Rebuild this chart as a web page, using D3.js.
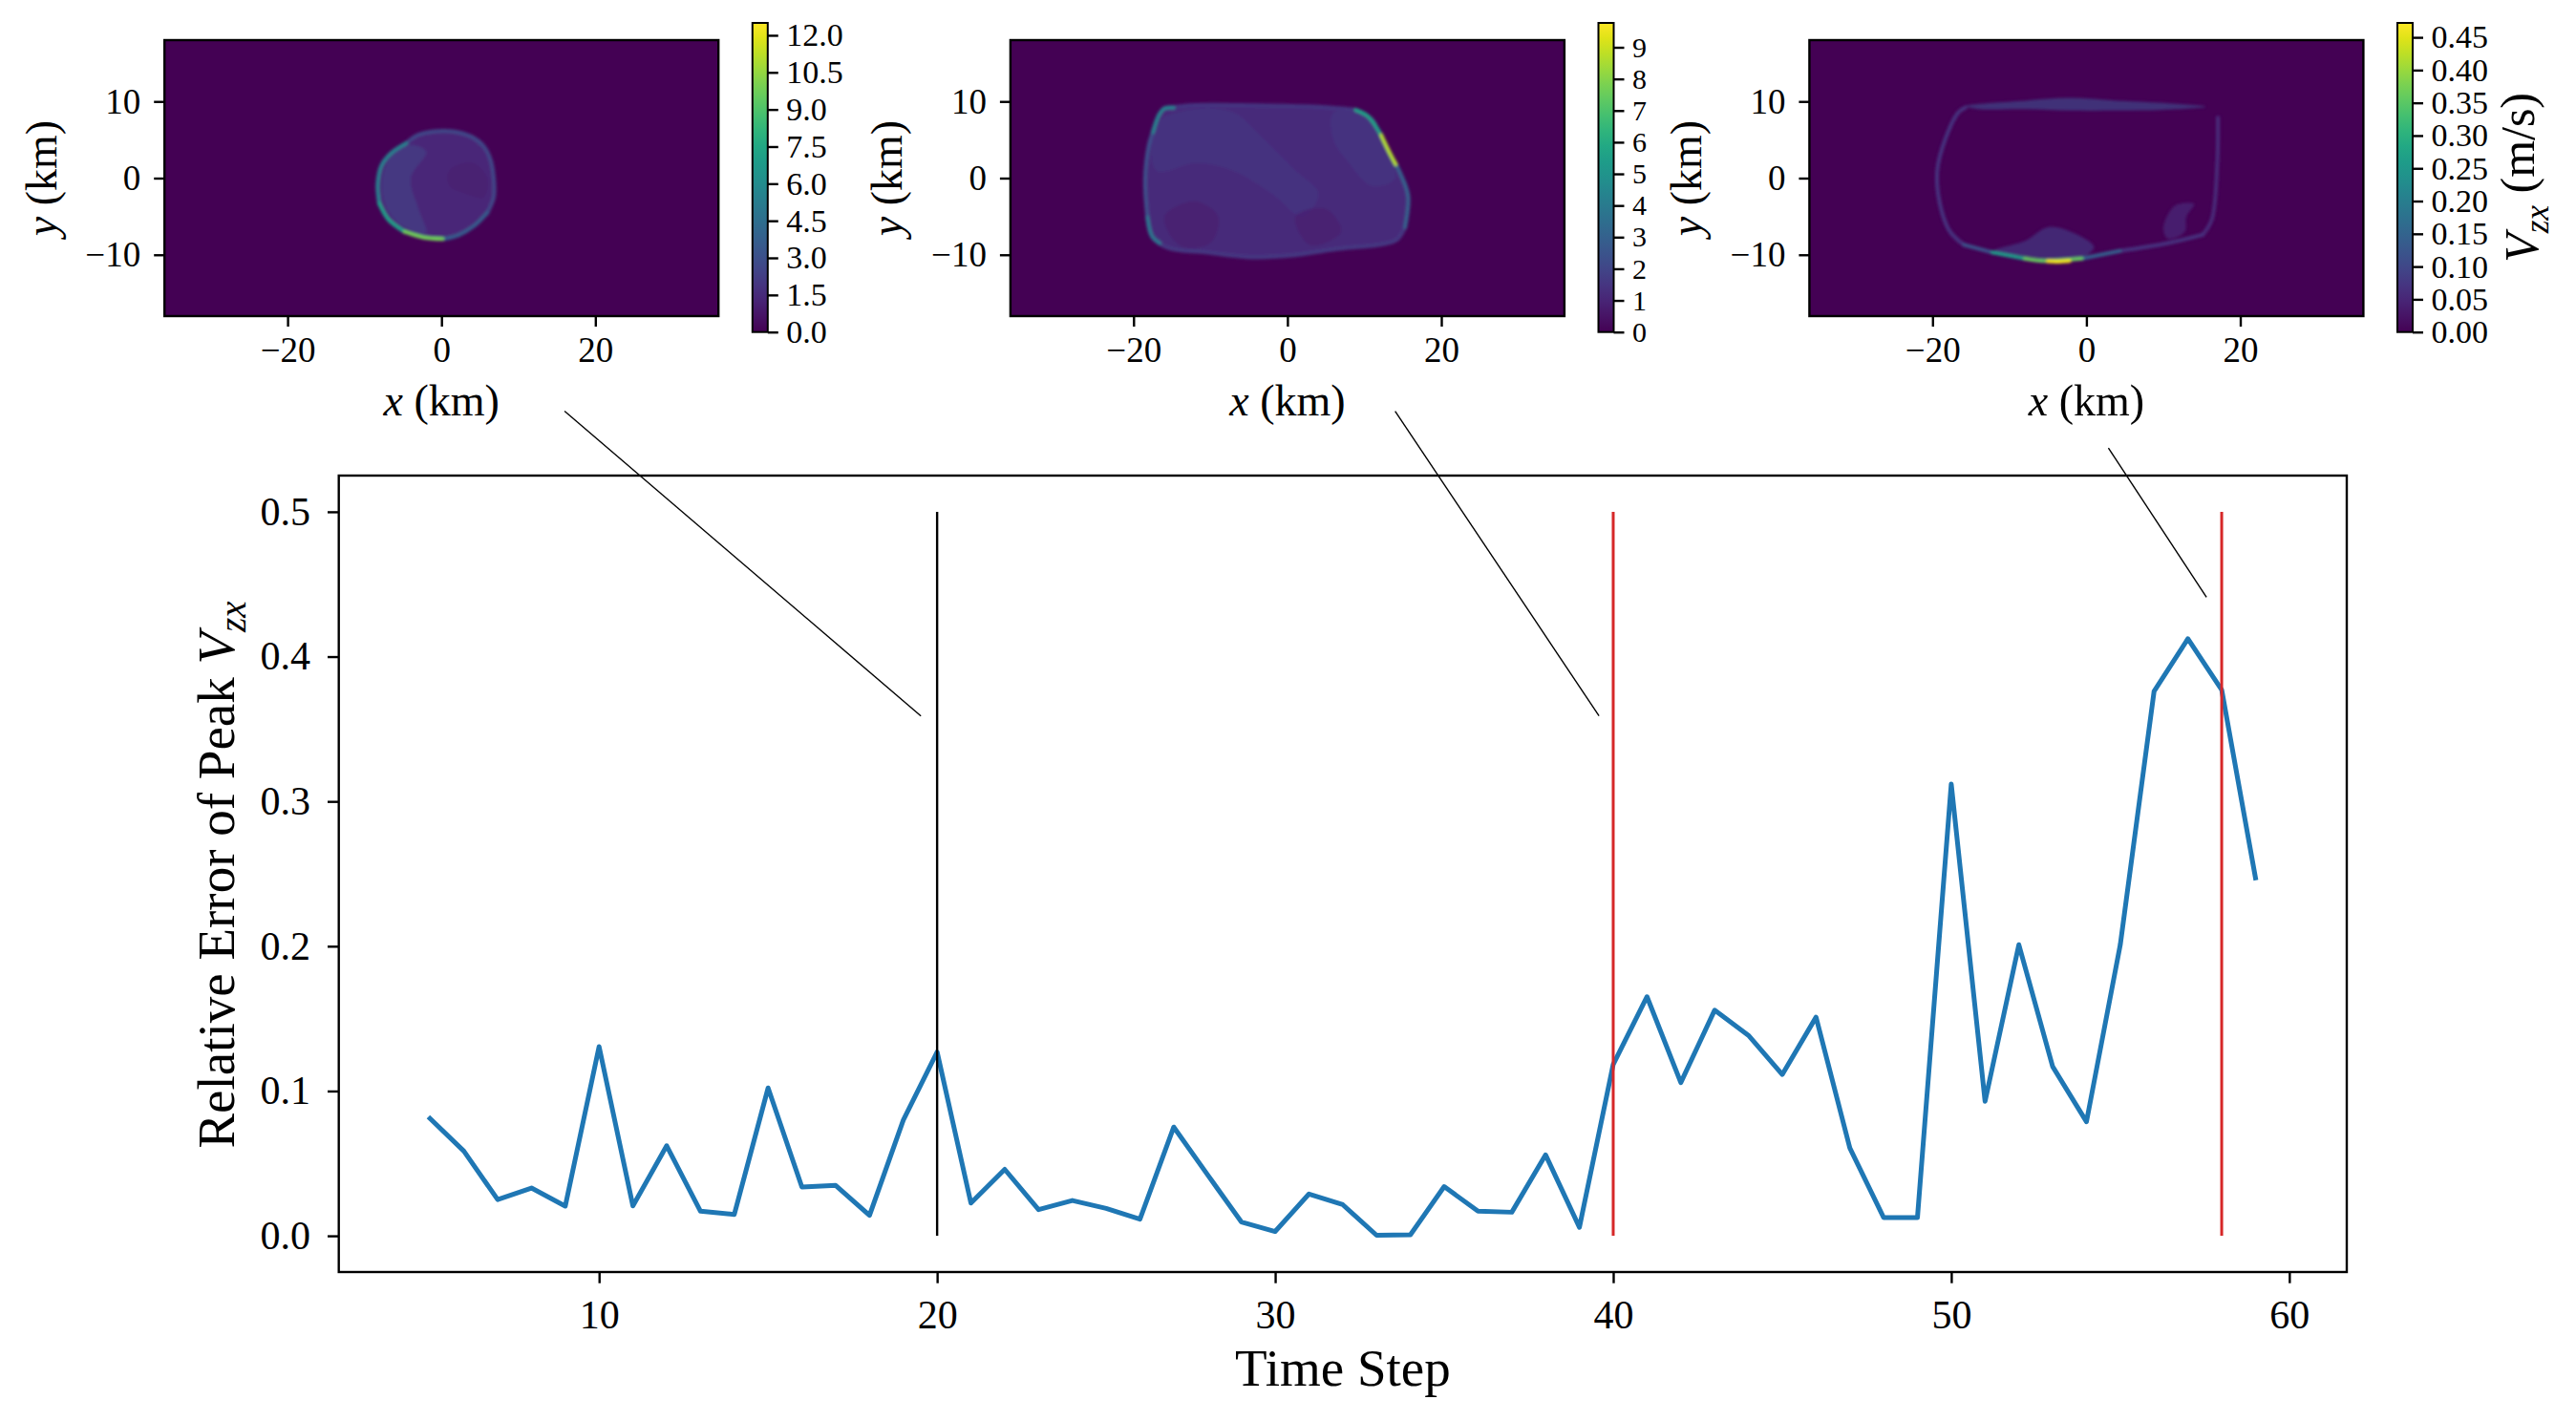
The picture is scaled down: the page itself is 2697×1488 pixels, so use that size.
<!DOCTYPE html>
<html><head><meta charset="utf-8">
<script src="https://cdn.jsdelivr.net/npm/d3@7"></script>
<style>
body{margin:0;background:#fff}
svg{display:block}
text{font-family:"Liberation Serif","Times New Roman",serif;fill:#000}
</style>
</head><body>
<svg id="chart" width="2697" height="1488"></svg>
<script>
// ---------------- DATA ----------------
const timeSteps = [5,6,7,8,9,10,11,12,13,14,15,16,17,18,19,20,21,22,23,24,25,26,27,28,29,30,31,32,33,34,35,36,37,38,39,40,41,42,43,44,45,46,47,48,49,50,51,52,53,54,55,56,57,58,59];
const relError = [0.081,0.0585,0.025,0.033,0.0205,0.1306,0.0207,0.0622,0.017,0.0148,
                  0.1021,0.0337,0.0348,0.0141,0.0799,0.1269,0.0226,0.0459,0.0181,0.0244,
                  0.0189,0.0115,0.0751,0.0422,0.0096,0.003,0.0289,0.0215,0.0004,0.0007,
                  0.034,0.017,0.0163,0.0559,0.0059,0.1184,0.1651,0.1058,0.1558,0.1384,
                  0.1114,0.151,0.0607,0.0126,0.0126,0.312,0.0929,0.201,0.1169,0.0788,
                  0.201,0.376,0.4123,0.3771,0.2472];
const markerSteps = [20, 40, 58];
const markerRange = [0, 0.5];
const mainXTicks = [10,20,30,40,50,60];
const mainYTicks = [0,0.1,0.2,0.3,0.4,0.5];
const mainXDomain = [2.3, 61.7];
const mainYDomain = [-0.025, 0.525];

const hmXDomain = [-36, 36];
const hmYDomain = [-18, 18];
const hmXTicks = [-20, 0, 20];
const hmYTicks = [-10, 0, 10];
const cbMax = [12.5, 9.77, 0.472];
const cbTicks1 = [0,1.5,3,4.5,6,7.5,9,10.5,12];
const cbTicks2 = [0,1,2,3,4,5,6,7,8,9];
const cbTicks3 = [0,0.05,0.1,0.15,0.2,0.25,0.3,0.35,0.4,0.45];

// heatmap 1 (x, y in km; values in colourbar units)
const outline1 = [[-0.9,6.1],[-3.1,5.6],[-4.6,4.55],[-6.5,3.3],[-7.8,1.65],[-8.3,-0.8],[-8.1,-3.3],[-6.9,-5.4],[-4.8,-7.0],[-2.3,-7.75],[0.15,-7.95],[2.2,-7.45],[4.3,-6.2],[5.95,-4.55],[6.8,-2.5],[6.8,0],[6.35,2.5],[5.5,4.15],[3.9,5.4],[1.4,6.1]];
const fill1 = 1.4;
const patches1 = [
  {v:2.2, pts:[[-4.5,4.3],[-6.6,2.8],[-7.6,0.5],[-7.6,-2.5],[-6.6,-4.8],[-4.6,-6.5],[-2,-7.2],[-3,-4],[-4,0],[-2,3.5]]},
  {v:1.0, pts:[[1,1],[4,2],[6,0],[5.5,-2.5],[3,-2],[1,-1]]}
];
const rim1 = [
  {v:2.6, pts:[[-4.6,4.55],[-3.1,5.6],[-0.9,6.1],[1.4,6.1],[3.9,5.4],[5.5,4.15],[6.35,2.5],[6.8,0],[6.8,-2.5],[5.95,-4.55]]},
  {v:3.6, pts:[[5.95,-4.55],[4.3,-6.2],[2.2,-7.45],[0.15,-7.95]]},
  {v:5.4, pts:[[-4.6,4.55],[-6.5,3.3],[-7.8,1.65],[-8.3,-0.8],[-8.1,-3.3]]},
  {v:7.0, pts:[[-8.1,-3.3],[-6.9,-5.4],[-4.8,-7.0]]},
  {v:9.8, pts:[[-4.8,-7.0],[-2.3,-7.75],[0.15,-7.95]]}
];

// heatmap 2
const outline2 = [[-16.0,9.1],[-16.7,8.25],[-18.0,4.35],[-18.5,-0.2],[-18.2,-5.15],[-17.6,-7.6],[-15.5,-9.1],[-10.5,-9.7],[-5.2,-10.3],[0.6,-10.1],[6.0,-9.3],[12.2,-8.65],[14.2,-8.05],[15.3,-6.4],[15.7,-2.3],[14.7,0.6],[13.4,3.1],[12.2,5.6],[10.5,8.05],[8.9,8.9],[3.9,9.3],[-4.3,9.5],[-12.6,9.5]];
const fill2 = 1.15;
const patches2 = [
  {v:1.55, pts:[[-17,7],[-12,9],[-7,8.5],[-3,5],[1,1],[4,-2],[2,-5],[-2,-2],[-7,1],[-12,2],[-17,1]]},
  {v:1.5, pts:[[6,8.5],[11,8],[12.5,4],[14,0],[11,-1],[8,2],[6,5]]},
  {v:0.8, pts:[[-16,-5],[-12,-3],[-9,-5],[-10,-8.5],[-14,-8.8]]},
  {v:0.8, pts:[[1,-5],[5,-4],[7,-7],[3,-8.8]]}
];
const rim2 = [
  {v:1.6, pts:[[-18.2,-5.15],[-17.6,-7.6],[-15.5,-9.1],[-10.5,-9.7],[-5.2,-10.3],[0.6,-10.1],[6.0,-9.3],[12.2,-8.65],[14.2,-8.05],[15.3,-6.4]]},
  {v:1.5, pts:[[-16.0,9.1],[-12.6,9.5],[-4.3,9.5],[3.9,9.3],[8.9,8.9]]},
  {v:4.2, pts:[[-14.8,9.2],[-16.0,9.1],[-16.7,8.25],[-17.5,6.0]]},
  {v:2.4, pts:[[-17.5,6.0],[-18.0,4.35],[-18.5,-0.2],[-18.2,-5.15]]},
  {v:3.8, pts:[[-18.2,-5.15],[-17.6,-7.6],[-16.6,-8.5]]},
  {v:3.0, pts:[[15.3,-6.4],[15.7,-2.3],[14.7,0.6],[14.1,1.8]]},
  {v:5.6, pts:[[8.9,8.9],[10.5,8.05],[12.2,5.6]]},
  {v:8.6, pts:[[12.2,5.6],[13.4,3.1],[14.1,1.8]]}
];

// heatmap 3
const patches3 = [
  {v:0.10, pts:[[-15.7,9.4],[-8,10.1],[-2.3,10.45],[4,10.1],[10,9.8],[15.5,9.3],[10,8.9],[4,8.8],[-2,8.8],[-8,9.0],[-14,9.0]]},
  {v:0.075, pts:[[-12,-9.5],[-8,-8.2],[-5,-6.4],[-2,-7.0],[1,-9],[-0.6,-10.3],[-4,-10.6],[-8,-10.2]]},
  {v:0.055, pts:[[10,-6.5],[11.5,-3.6],[14,-3.4],[13,-5],[12.8,-7],[10.6,-7.9]]}
];
const rim3 = [
  {v:0.07, pts:[[-15.7,9.2],[-16.7,8.5],[-19.4,0.8],[-17.96,-6.6],[-15.9,-8.7]]},
  {v:0.055, pts:[[17.1,7.9],[17.0,1.7],[16.3,-5.4],[15.1,-7.4]]},
  {v:0.07, pts:[[15.1,-7.4],[10.5,-8.5],[4.35,-9.5]]},
  {v:0.14, pts:[[4.35,-9.5],[-0.6,-10.5]]},
  {v:0.12, pts:[[-15.9,-8.7],[-12.2,-9.7]]},
  {v:0.26, pts:[[-12.2,-9.7],[-8.0,-10.5]]},
  {v:0.36, pts:[[-8.0,-10.5],[-5.5,-10.8],[-0.6,-10.5]]},
  {v:0.46, pts:[[-5.0,-10.85],[-3.9,-10.9],[-2.2,-10.8]]}
];

const connectorFrom = [[16.0,-30.4],[14.0,-30.4],[2.86,-35.2]];
const connectorTo = [[19.52,0.359],[39.58,0.359],[57.55,0.441]];

// ---------------- DRAW ----------------
const svg = d3.select("#chart");
const defs = svg.append("defs");
defs.append("filter").attr("id","soft").attr("x","-10%").attr("y","-10%").attr("width","120%").attr("height","120%")
  .append("feGaussianBlur").attr("stdDeviation",1.7);

const AX_W = 2.4;
const line = d3.line();

function styleAxis(g, fs){
  g.select(".domain").remove();
  g.selectAll(".tick line").attr("stroke","#000").attr("stroke-width",AX_W);
  g.selectAll(".tick text").style("font-size",fs+"px").attr("fill","#000");
}
const fmtMinus = s => s.replace("-", "\u2212");

// ---- main plot ----
const mx = d3.scaleLinear().domain(mainXDomain).range([354.7, 2457]);
const my = d3.scaleLinear().domain(mainYDomain).range([1332, 498]);

svg.append("path").datum(timeSteps.map((t,i)=>[mx(t), my(relError[i])]))
  .attr("d", line).attr("fill","none").attr("stroke","#1f77b4").attr("stroke-width",5)
  .attr("stroke-linejoin","round").attr("stroke-linecap","square");

markerSteps.forEach((s,i)=>{
  svg.append("line").attr("x1",mx(s)).attr("x2",mx(s)).attr("y1",my(markerRange[0])).attr("y2",my(markerRange[1]))
    .attr("stroke", i===0 ? "#000" : "#d62728").attr("stroke-width", i===0 ? 2.4 : 3);
});

svg.append("g").attr("transform","translate(0,1332)")
  .call(d3.axisBottom(mx).tickValues(mainXTicks).tickSize(11.7).tickPadding(17).tickFormat(d3.format("d")))
  .call(g=>styleAxis(g,42));
svg.append("g").attr("transform","translate(354.7,0)")
  .call(d3.axisLeft(my).tickValues(mainYTicks).tickSize(11.7).tickPadding(18).tickFormat(d3.format(".1f")))
  .call(g=>styleAxis(g,42));
svg.append("rect").attr("x",354.7).attr("y",498).attr("width",2457-354.7).attr("height",1332-498)
  .attr("fill","none").attr("stroke","#000").attr("stroke-width",AX_W);

svg.append("text").attr("x",(354.7+2457)/2).attr("y",1451).attr("text-anchor","middle")
  .style("font-size","55px").text("Time Step");
const yl = svg.append("text").attr("transform","translate(245,916) rotate(-90)").attr("text-anchor","middle").style("font-size","55px");
yl.append("tspan").text("Relative Error of Peak ");
yl.append("tspan").style("font-style","italic").text("V");
yl.append("tspan").style("font-style","italic").style("font-size","39px").attr("dy","0.3em").text("zx");

// ---- heatmaps ----
const hmLeft = [172.2, 1057.9, 1894.4];
const hmW = 580, hmTop = 42, hmBot = 331;
const cbTop = 24, cbBot = 347.7, cbW = 16, cbGap = 35.6;
const outlines = [outline1, outline2, null];
const fills = [fill1, fill2, 0];
const patches = [patches1, patches2, patches3];
const rims = [rim1, rim2, rim3];
const cbTicks = [cbTicks1, cbTicks2, cbTicks3];
const cbFmt = [d3.format(".1f"), d3.format("d"), d3.format(".2f")];

// colourbar gradient
const grad = defs.append("linearGradient").attr("id","vir").attr("x1",0).attr("y1",1).attr("x2",0).attr("y2",0);
d3.range(0,1.0001,0.05).forEach(t=>grad.append("stop").attr("offset",t).attr("stop-color",d3.interpolateViridis(t)));

const hmScales = [];
[0,1,2].forEach(k=>{
  const x0 = hmLeft[k];
  const hx = d3.scaleLinear().domain(hmXDomain).range([x0, x0+hmW]);
  const hy = d3.scaleLinear().domain(hmYDomain).range([hmBot, hmTop]);
  hmScales.push([hx,hy]);
  const col = d3.scaleSequential(d3.interpolateViridis).domain([0, cbMax[k]]);
  defs.append("clipPath").attr("id","clip"+k).append("rect")
    .attr("x",x0).attr("y",hmTop).attr("width",hmW).attr("height",hmBot-hmTop);
  const g = svg.append("g").attr("clip-path","url(#clip"+k+")");
  g.append("rect").attr("x",x0).attr("y",hmTop).attr("width",hmW).attr("height",hmBot-hmTop).attr("fill",col(0));
  const inner = g.append("g").attr("filter","url(#soft)");
  const pl = d3.line().x(d=>hx(d[0])).y(d=>hy(d[1]));
  if(outlines[k]){
    inner.append("path").attr("d", pl(outlines[k])+"Z").attr("fill", col(fills[k]));
  }
  patches[k].forEach(p=>{
    inner.append("path").attr("d", d3.line().x(d=>hx(d[0])).y(d=>hy(d[1])).curve(d3.curveCatmullRomClosed)(p.pts))
      .attr("fill", col(p.v)).attr("opacity",0.7);
  });
  rims[k].slice().sort((a,b)=>a.v-b.v).forEach(r=>{
    inner.append("path").attr("d", d3.line().x(d=>hx(d[0])).y(d=>hy(d[1])).curve(d3.curveCatmullRom)(r.pts))
      .attr("fill","none").attr("stroke", col(r.v)).attr("stroke-width",4)
      .attr("stroke-linecap","round").attr("stroke-linejoin","round");
  });
  // axes
  svg.append("g").attr("transform",`translate(0,${hmBot})`)
    .call(d3.axisBottom(hx).tickValues(hmXTicks).tickSize(11).tickPadding(11).tickFormat(d=>fmtMinus(d3.format("d")(d))))
    .call(a=>styleAxis(a,37));
  svg.append("g").attr("transform",`translate(${x0},0)`)
    .call(d3.axisLeft(hy).tickValues(hmYTicks).tickSize(11).tickPadding(14).tickFormat(d=>fmtMinus(d3.format("d")(d))))
    .call(a=>styleAxis(a,37));
  svg.append("rect").attr("x",x0).attr("y",hmTop).attr("width",hmW).attr("height",hmBot-hmTop)
    .attr("fill","none").attr("stroke","#000").attr("stroke-width",AX_W);
  // labels
  const xl = svg.append("text").attr("x",x0+hmW/2).attr("y",434.5).attr("text-anchor","middle").style("font-size","46px");
  xl.append("tspan").style("font-style","italic").text("x");
  xl.append("tspan").text(" (km)");
  const ylab = svg.append("text").attr("transform",`translate(${x0-113.7},${(hmTop+hmBot)/2}) rotate(-90)`)
    .attr("text-anchor","middle").style("font-size","46px");
  ylab.append("tspan").style("font-style","italic").text("y");
  ylab.append("tspan").text(" (km)");
  // colourbar
  const cx0 = x0 + hmW + cbGap;
  const cy = d3.scaleLinear().domain([0, cbMax[k]]).range([cbBot, cbTop]);
  svg.append("rect").attr("x",cx0).attr("y",cbTop).attr("width",cbW).attr("height",cbBot-cbTop).attr("fill","url(#vir)");
  svg.append("g").attr("transform",`translate(${cx0+cbW},0)`)
    .call(d3.axisRight(cy).tickValues(cbTicks[k]).tickSize(11).tickPadding(8.5).tickFormat(cbFmt[k]))
    .call(a=>styleAxis(a, k===1 ? 30 : 34));
  svg.append("rect").attr("x",cx0).attr("y",cbTop).attr("width",cbW).attr("height",cbBot-cbTop)
    .attr("fill","none").attr("stroke","#000").attr("stroke-width",2);
  if(k===2){
    const cl = svg.append("text").attr("transform",`translate(${cx0+cbW+131},${(cbTop+cbBot)/2}) rotate(-90)`)
      .attr("text-anchor","middle").style("font-size","50px");
    cl.append("tspan").style("font-style","italic").text("V");
    cl.append("tspan").style("font-style","italic").style("font-size","35px").attr("dy","0.3em").text("zx");
    cl.append("tspan").attr("dy","-0.3em").text(" (m/s)");
  }
});

// connectors
connectorFrom.forEach((f,i)=>{
  const [hx,hy] = hmScales[i];
  const t = connectorTo[i];
  svg.append("line").attr("x1",hx(f[0])).attr("y1",hy(f[1])).attr("x2",mx(t[0])).attr("y2",my(t[1]))
    .attr("stroke","#000").attr("stroke-width",1.4);
});
</script>
</body></html>
